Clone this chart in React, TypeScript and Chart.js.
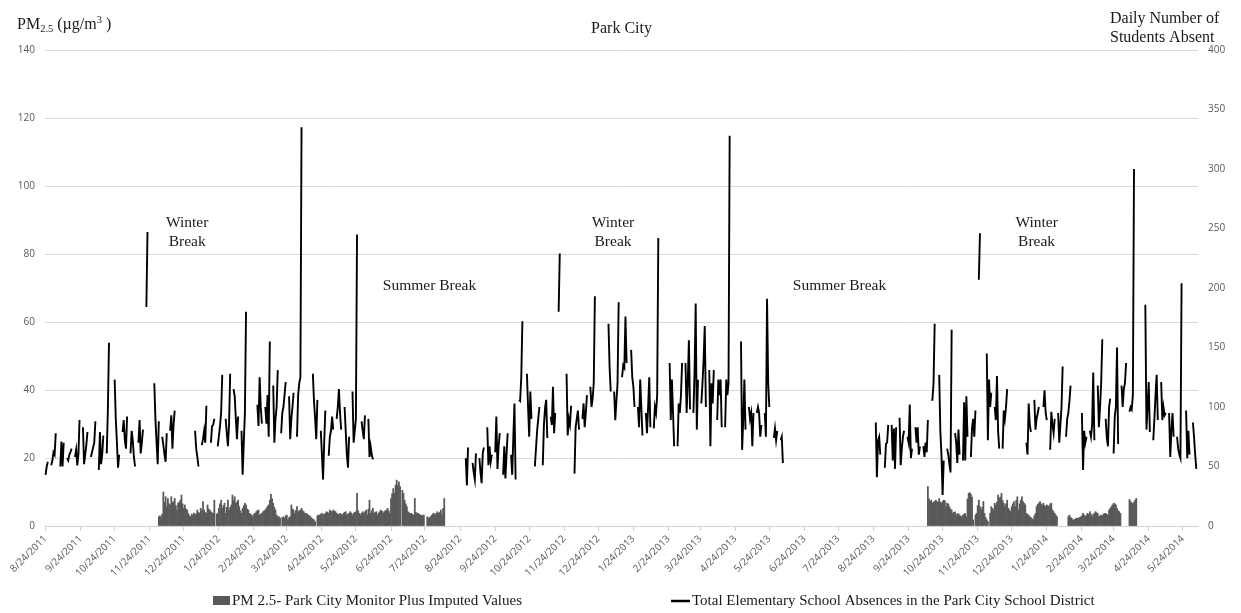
import { useEffect, useRef } from "react";
import { Chart, registerables } from "chart.js";

Chart.register(...registerables);

// ---------- categories (one per day) ----------
const START = Date.UTC(2011, 7, 24);
const DAY_COUNT = 1018; // 8/24/2011 .. 6/6/2014
const categories: string[] = Array.from({ length: DAY_COUNT }, (_, i) => {
  const dt = new Date(START + i * 86400000);
  return `${dt.getUTCMonth() + 1}/${dt.getUTCDate()}/${dt.getUTCFullYear()}`;
});

const tickLabels = [
  "8/24/2011", "9/24/2011", "10/24/2011", "11/24/2011", "12/24/2011", "1/24/2012", "2/24/2012",
  "3/24/2012", "4/24/2012", "5/24/2012", "6/24/2012", "7/24/2012", "8/24/2012", "9/24/2012",
  "10/24/2012", "11/24/2012", "12/24/2012", "1/24/2013", "2/24/2013", "3/24/2013", "4/24/2013",
  "5/24/2013", "6/24/2013", "7/24/2013", "8/24/2013", "9/24/2013", "10/24/2013", "11/24/2013",
  "12/24/2013", "1/24/2014", "2/24/2014", "3/24/2014", "4/24/2014", "5/24/2014",
];

const leftTicks = { min: 0, max: 140, step: 20 };
const rightTicks = { min: 0, max: 400, step: 50 };

// ---------- absences: school weeks, Mon..Fri (null = no school) ----------
const absencesStart2011 = "8/22/2011";
const absences2011: (number | null)[][] = [
  [null, null, 43, 50, 54], [51, 55, 62, 60, 78], [null, 50, 71, 50, 70], [57, 55, 60, 62, 65],
  [58, 64, 51, 60, 89], [83, 52, 60, 68, 79], [58, 62, 66, 70, 88], [47, 79, 52, 60, 76],
  [61, 97, 154, null, null], [123, 90, 70, 49, 60], [79, 89, 72, 65, 92], [61, 80, 72, 58, 50],
  [70, 89, 61, 70, 81], [184, 247, null, null, null], [120, 90, 70, 52, 88], [75, 68, 60, 54, 78],
  [80, 93, 65, 85, 97], [], [], [null, 80, 65, 58, 50],
  [68, 73, 80, 70, 101], [null, 70, 84, 85, 90], [67, 75, 84, 95, 127], [90, 78, 67, 85, 128],
  [115, 109, 90, 73, 92], [80, 43, 70, 95, 180], [], [102, 84, 125, 100, 86],
  [100, 86, 110, 75, 155], [118, 70, 90, 100, 131], [78, 95, 100, 110, 121], [109, 73, 90, 100, 112],
  [75, 110, 120, 125, 335], [], [128, 105, 90, 73, 106], [80, 60, 39, 70, 97],
  [59, 75, 80, 92, 81], [90, 100, 115, 95, 81], [100, 80, 60, 49, 75], [113, 70, 80, 90, 245],
  [null, 88, 80, 73, 93], [90, 58, 67, 60, 56],
];

const absencesStart2012 = "8/27/2012";
const absences2012: (number | null)[][] = [
  [null, null, 57, 34, 66], [null, 53, 45, 39, 61], [57, 45, 36, 61, 66], [83, 51, 67, 54, 60],
  [62, 92, 48, 67, 78], [43, 67, 40, 60, 78], [60, 43, 75, 103, 39], [106, 105, 125, 172, null],
  [128, 100, 75, 113, 90], [50, 65, 80, 90, 100], [51, 85, 99, 106, 74], [92, 85, 117, 78, 95],
  [180, 229, null, null, null], [128, 76, 90, 85, 101], [44, 83, 90, 97, 81], [90, 103, 83, 95, 110],
  [117, 100, 107, 120, 193], [], [null, null, 170, 133, 113], [113, 89, 105, 120, 188],
  [125, 135, 133, 176, 137], [null, 148, 125, 117, 100], [100, 83, 123, 100, 76], [95, 78, 100, 125, 83],
  [82, 100, 95, 110, 242], [], [137, 89, 123, 95, 67], [67, 103, 95, 110, 137],
  [137, 95, 120, 156, 98], [95, 130, 187, 81, 123], [103, 120, 140, 168, 100], [131, 67, 120, 103, 131],
  [89, 123, 110, 123, 83], [83, 123, 110, 120, 328], [], [155, 64, 89, 123, 81],
  [100, 90, 95, 67, 95], [95, 100, 95, 75, 85], [95, 75, 191, 121, 100], [null, 74, 82, 72, 80],
  [72, 75, 53, null, null],
];

const absencesStart2013 = "8/26/2013";
const absences2013: (number | null)[][] = [
  [87, 41, 72, 75, 60], [null, 49, 69, 70, 85], [85, 55, 82, 48, 83], [91, 51, 65, 75, 80],
  [75, 70, 102, 57, 65], [83, 70, 83, 60, 67], [67, 58, 70, 62, 89], [106, 106, 120, 170, null],
  [127, 80, 60, 26, 55], [65, 60, 52, 45, 165], [78, 70, 53, 81, 60], [55, 104, 55, 109, 75],
  [58, 83, 90, 75, 97], [207, 246, null, null, null], [145, 72, 123, 100, 112], [100, 89, 126, 80, 65],
  [65, 97, 90, 100, 115], [], [], [70, 60, 103, 85, 79],
  [106, 81, 90, 95, 100], [null, 100, 114, 95, 89], [64, 96, 85, 78, 90], [95, 70, 85, 100, 134],
  [75, 90, 95, 105, 118], [], [95, 47, 80, 70, 75], [80, 75, 85, 129, 72],
  [118, 83, 100, 120, 157], [90, 74, 67, 100, 107], [61, 92, 100, 150, 69], [118, 100, 115, 120, 137],
  [96, 100, 98, 110, 300], [], [186, 81, 100, 121, 79], [72, 90, 110, 127, 89],
  [121, 89, 100, 93, 95], [95, 58, 80, 95, 75], [75, 65, 60, 57, 204], [null, 97, 57, 80, 60],
  [87, 75, 60, 48, null],
];

// ---------- PM2.5 daily runs ----------
const pmStart2011 = "12/2/2011";
const pm2011: (number | null)[] = [
  2.7, 3, 2.5, 3.5, 10, 7, 8.6, 5.7, 8.1, 6.5, 6.2, 8.6, 6.8, 7.2, 8.1, 6, 4.7, 6.7, 7, 7.6,
  9.1, 6.5, 5.2, 6.2, 5, 4.7, 3.7, 3, 2.7, 3.5, 3.2, 3.8, 3.3, 3.6, 4.7, 4, 3.7, 5.2, 4.5, 7.2,
  4.7, 4, 3.7, 6.2, 5, 4.7, 4.2, 3.9, 3.7, 7.6, null, 3.5, 3.7, 5.2, 6.5, 7.6, 5.2, 6, 6.7, 3.7,
  5.5, 7.6, 4.7, 5.5, 6.2, 9.1, 7.5, 8.6, 6.7, 7, 7.6, 5.7, 4.5, 3.7, 5.2, 6, 6.7, 6.2, 5, 4.7,
  3.7, 3.5, 3.2, 2.7, 3.5, 3.7, 4.2, 4.5, 4.7, 3.2, 3.5, 3.7, 4.2, 4.5, 4.7, 5.2, 5.8, 6.2, 7.6, 9.3,
  8, 6.7, 5.5, 4.7, 3.2, 2.8, 2.7, 2.3, null, 2.5, 2.7, 2.3, 3, 3.2, 1.8, 2.5, 2.7, 6.2, 5, 4.7,
  3.7, 4.5, 5.7, 4.2, 4.5, 4.7, 5.2, 4.5, 4.2, 3.7, 3.7, 3.5, 3.2, 3, 2.7, 2.3, 2, 1.8, 1.3, null,
  3, 3.2, 3.2, 3.5, 3.7, 3.2, 3.5, 3.7, 4.2, 4, 3.7, 4.7, 4.3, 4.2, 4.7, 4.4, 4.2, 3.7, 3.5, 3.2,
  3.7, 3.4, 3.2, 3.7, 4, 4.2, 3.2, 3.5, 3.7, 4.2, 3.8, 3.2, 3.7, 4, 4.2, 9.6, 4.5, 3.7, 3.2, 3.8,
  4.2, 3.7, 4.2, 4.7, 3.2, 5, 7.6, 3.7, 4.5, 5.2, 3.7, 4, 4.2, 3.2, 3.8, 4.2, 4.7, 4.3, 3.7, 4.2,
  4.5, 4.7, 5.2, 4.5, 3.7, 8.1, 9.5, 11, 9.6, 12, 13.5, 12, 13, 11.6, null, 10.5, 9.6, 7.6, 6.5, 5.7,
  4.2, 3.9, 3.7, 3.7, 3.4, 3.2, 8.1, 4, 3.7, 3.7, 3.4, 3.2, 3.2, 3, 3.2, null, null, 2.7, 2.3, 2.5,
  2.7, 3.2, 3.5, 3.7, 3.2, 3.8, 4.2, 3.7, 4, 4.7, 3.2, 5.2, 8.1,
];

const pmStart2013 = "10/11/2013";
const pm2013: (number | null)[] = [
  11.6, 8, 7.2, 7.6, 6.7, 7, 7.2, 7.6, 7.2, 7, 8.1, 7, 6.7, 7.2, 7.6, 7.4, 5.7, 6.7, 6.5, 5.7,
  5, 4.7, 3.7, 4, 4.2, 3.2, 3.5, 3.7, 3.2, 2.9, 2.7, 3.2, 3.5, 3.7, 2.7, 8, 9.6, 9.8, 9.3, 8.5,
  1.8, null, 3.2, 3.7, 6, 7.6, 5.7, 4.7, 5.5, 7.2, 3.7, 2.5, 1.8, 1.3, null, 3.7, 5.7, 5.2, 4.7, 6.7,
  6.2, 7, 9.1, 8.1, 8.5, 9.6, 7.5, 6.7, 5.7, 6.5, 7.6, 5.2, 4.7, 4.2, 5.7, 6.5, 7.2, 5.7, 7.5, 8.6,
  4.7, 6.5, 7.6, 8.6, 7.2, 6.7, 6.2, 3.7, 3.4, 3.2, 2.7, 2.5, 2.2, 1.8, 3, 3.7, 5.7, 6.4, 6.7, 7.2,
  6.5, 6.2, 6.7, 6, 5.7, 6.2, 5.9, 5.7, 6.5, 6.7, 4.7, 4.2, 3.7, 3.2, 2.7,
];

const pmStart2014 = "2/12/2014";
const pm2014: (number | null)[] = [
  2.7, 3.2, 2.5, 2.3, 1.8, 1.8, 2, 2.3, 2.3, 2.3, 2.5, 2.7, 3, 3.7, 3.2, 2.7, 3.2, 3.7, 3.4, 4.2,
  3.5, 2.7, 3.4, 3.7, 4.2, 3.9, 3.7, 2.7, 3, 3.2, 2.9, 3.5, 3.7, 3.7, 3.4, 3.2, 4.7, 5.2, 5.7, 6.2,
  6.7, 6.5, 6.2, 5.2, 4.5, 4.2, 3.7,
];

const pmStartApr2014 = "4/7/2014";
const pmApr2014: (number | null)[] = [7.8, 7.2, 6.8, 6.5, 7, 7.6, 8.1];

// ---------- annotations ----------
const annotations = [
  { lines: ["Winter", "Break"], day: "12/27/2011", value: 88 },
  { lines: ["Summer Break"], day: "7/28/2012", value: 69.4 },
  { lines: ["Winter", "Break"], day: "1/6/2013", value: 88 },
  { lines: ["Summer Break"], day: "7/25/2013", value: 69.4 },
  { lines: ["Winter", "Break"], day: "1/15/2014", value: 88 },
];

const barLabel = "PM 2.5- Park City Monitor Plus Imputed Values";
const lineLabel = "Total Elementary School Absences in the Park City School District";

// ---------- build daily series ----------
function dayOf(label: string): number {
  const [m, d, y] = label.split("/").map(Number);
  return Math.round((Date.UTC(y, m - 1, d) - START) / 86400000);
}

function placeWeeks(out: (number | null)[], firstMonday: string, weeks: (number | null)[][]) {
  const base = dayOf(firstMonday);
  weeks.forEach((wk, w) => {
    wk.forEach((v, i) => {
      const d = base + w * 7 + i;
      if (d >= 0 && d < DAY_COUNT) out[d] = v;
    });
  });
}

function placeRun(out: (number | null)[], first: string, values: (number | null)[]) {
  const base = dayOf(first);
  values.forEach((v, i) => {
    const d = base + i;
    if (d >= 0 && d < DAY_COUNT) out[d] = v;
  });
}

const absences: (number | null)[] = new Array(DAY_COUNT).fill(null);
placeWeeks(absences, absencesStart2011, absences2011);
placeWeeks(absences, absencesStart2012, absences2012);
placeWeeks(absences, absencesStart2013, absences2013);

const pm: (number | null)[] = new Array(DAY_COUNT).fill(null);
placeRun(pm, pmStart2011, pm2011);
placeRun(pm, pmStart2013, pm2013);
placeRun(pm, pmStart2014, pm2014);
placeRun(pm, pmStartApr2014, pmApr2014);

const tickSet = new Set(tickLabels);
const SERIF = '"Liberation Serif", "Times New Roman", serif';
const SANS = '"Open Sans", sans-serif';

const textPlugin = {
  id: "textPlugin",
  afterDraw(chart: any) {
    const ctx = chart.ctx as CanvasRenderingContext2D;
    const xs = chart.scales.x;
    const ys = chart.scales.y;
    const ca = chart.chartArea;
    ctx.save();
    ctx.fillStyle = "#1a1a1a";
    ctx.textBaseline = "alphabetic";

    // title
    ctx.font = `16px ${SERIF}`;
    ctx.textAlign = "center";
    ctx.fillText("Park City", (ca.left + ca.right) / 2, 33);

    // left axis title: PM2.5 (µg/m3 )
    ctx.textAlign = "left";
    let x = 17;
    const base = 29;
    const seg = (t: string, size: number, dy: number) => {
      ctx.font = `${size}px ${SERIF}`;
      ctx.fillText(t, x, base + dy);
      x += ctx.measureText(t).width;
    };
    seg("PM", 16, 0);
    seg("2.5", 10.5, 3);
    seg(" (\u00b5g/m", 16, 0);
    seg("3", 10.5, -6);
    seg(" )", 16, 0);

    // right axis title
    ctx.font = `16px ${SERIF}`;
    ctx.fillText("Daily Number of", 1110, 23);
    ctx.fillText("Students Absent", 1110, 42);

    // annotations
    ctx.font = `15.5px ${SERIF}`;
    ctx.textAlign = "center";
    annotations.forEach((a) => {
      const px = xs.getPixelForValue(categories.indexOf(a.day));
      const py = ys.getPixelForValue(a.value);
      a.lines.forEach((ln, i) => ctx.fillText(ln, px, py + i * 19.5));
    });

    // legend
    ctx.textAlign = "left";
    ctx.font = `15px ${SERIF}`;
    const ly = 605;
    ctx.fillStyle = "#595959";
    ctx.fillRect(213, 596, 17, 9);
    ctx.fillStyle = "#1a1a1a";
    ctx.fillText(barLabel, 232, ly);
    ctx.strokeStyle = "#000";
    ctx.lineWidth = 2.5;
    ctx.beginPath();
    ctx.moveTo(671, 601);
    ctx.lineTo(690, 601);
    ctx.stroke();
    ctx.fillText(lineLabel, 692, ly);
    ctx.restore();
  },
};

export default function App() {
  const ref = useRef<HTMLCanvasElement | null>(null);

  useEffect(() => {
    if (!ref.current) return;
    const chart = new Chart(ref.current, {
      type: "bar",
      data: {
        labels: categories,
        datasets: [
          {
            type: "line",
            label: lineLabel,
            data: absences,
            yAxisID: "y1",
            borderColor: "#000",
            backgroundColor: "#000",
            borderWidth: 1.9,
            pointRadius: 0,
            pointHoverRadius: 0,
            spanGaps: false,
            tension: 0,
            order: 0,
          } as any,
          {
            type: "bar",
            label: barLabel,
            data: pm,
            yAxisID: "y",
            backgroundColor: "#595959",
            barPercentage: 1,
            categoryPercentage: 1,
            order: 1,
          } as any,
        ],
      },
      options: {
        animation: false,
        responsive: false,
        devicePixelRatio: 1,
        layout: { padding: { top: 50, left: 0, right: 0, bottom: 0 } },
        plugins: {
          legend: { display: false },
          tooltip: { enabled: false },
          title: { display: false },
        },
        scales: {
          x: {
            type: "category",
            offset: true,
            grid: {
              display: true,
              drawOnChartArea: false,
              drawTicks: true,
              tickLength: 5,
              color: "#d0d0d0",
              offset: false,
            },
            border: { display: true, color: "#d0d0d0" },
            ticks: {
              autoSkip: false,
              maxRotation: 45,
              minRotation: 45,
              padding: 2,
              color: "#595959",
              font: { family: SANS, size: 10 },
            },
            afterBuildTicks: (scale: any) => {
              scale.ticks = scale.ticks.filter((t: any) => tickSet.has(categories[t.value]));
            },
            afterFit: (scale: any) => {
              scale.height = 87;
            },
          } as any,
          y: {
            position: "left",
            min: leftTicks.min,
            max: leftTicks.max,
            ticks: { stepSize: leftTicks.step, padding: 10, color: "#595959", font: { family: SANS, size: 10 } },
            grid: { color: "#d9d9d9", drawTicks: false },
            border: { display: false },
            afterFit: (scale: any) => {
              scale.width = 45;
            },
          } as any,
          y1: {
            position: "right",
            min: rightTicks.min,
            max: rightTicks.max,
            ticks: { stepSize: rightTicks.step, padding: 10, color: "#595959", font: { family: SANS, size: 10 } },
            grid: { display: false, drawTicks: false },
            border: { display: false },
            afterFit: (scale: any) => {
              scale.width = 43;
            },
          } as any,
        },
      },
      plugins: [textPlugin],
    });
    return () => chart.destroy();
  }, []);

  return (
    <div style={{ position: "absolute", left: 0, top: 0, width: 1241, height: 613, background: "#fff" }}>
      <canvas ref={ref} width={1241} height={613} style={{ display: "block" }} />
    </div>
  );
}
